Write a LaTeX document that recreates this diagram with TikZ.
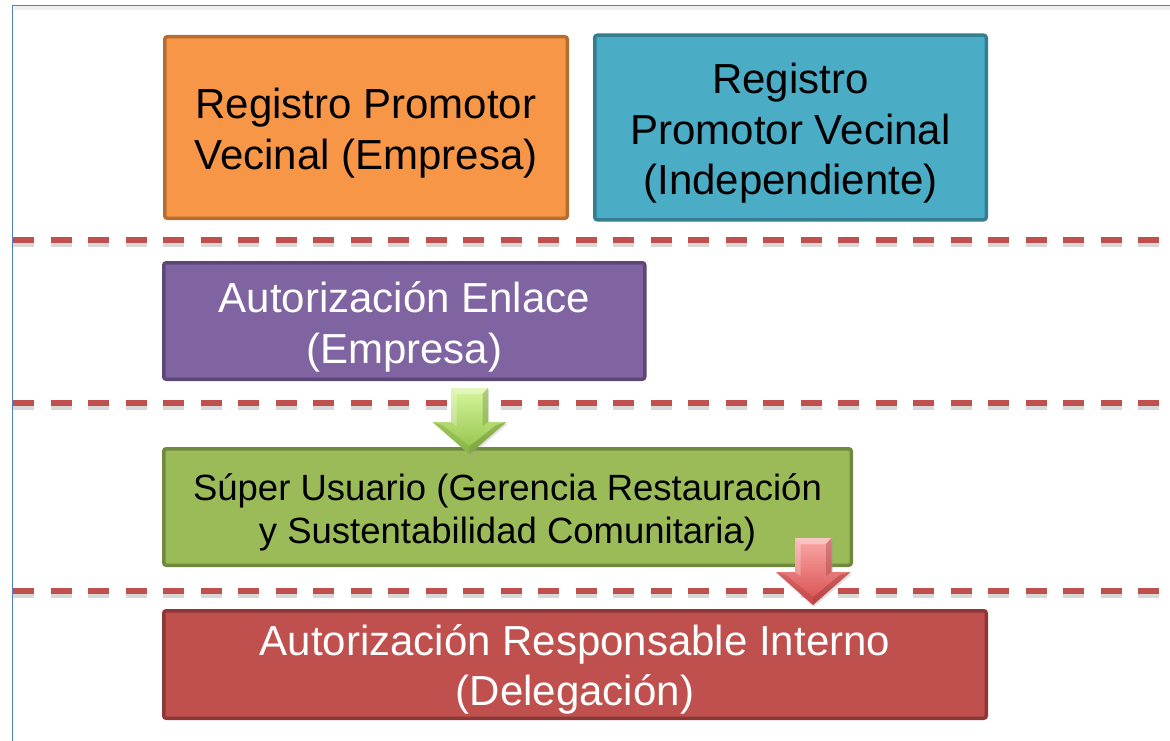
\documentclass[tikz,border=0pt]{standalone}
\usepackage{fontspec}
\setmainfont{Liberation Sans}
\definecolor{frameblue}{HTML}{4F81BD}
\definecolor{dashred}{HTML}{C0504D}
\definecolor{orfill}{HTML}{F79646}\definecolor{ordraw}{HTML}{B66D31}
\definecolor{tefill}{HTML}{4BACC6}\definecolor{tedraw}{HTML}{357D91}
\definecolor{pufill}{HTML}{8064A2}\definecolor{pudraw}{HTML}{5C4776}
\definecolor{grfill}{HTML}{9BBB59}\definecolor{grdraw}{HTML}{71893F}
\definecolor{refill}{HTML}{C0504D}\definecolor{redraw}{HTML}{8C3836}
\definecolor{garrtop}{HTML}{D6F59C}\definecolor{garrbot}{HTML}{92C248}
\definecolor{rarrtop}{HTML}{FAA8A8}\definecolor{rarrbot}{HTML}{D84C4C}
\begin{document}
\begin{tikzpicture}[x=1pt,y=-1pt,
  boxstyle/.style={draw, line width=3.5pt, rounded corners=2.5pt, inner sep=0pt},
  boxtext/.style={align=center, inner sep=0pt, font=\fontsize{42}{50.5}\selectfont},
  sepline/.style={draw=dashred, line width=5.5pt, dash pattern=on 21pt off 16.5pt},
  sepshadow/.style={draw=black!30, opacity=0.5, line width=5pt, dash pattern=on 21pt off 16.5pt}]
\useasboundingbox (0,0) rectangle (1170,741);
\fill[white] (0,0) rectangle (1170,741);
% frame
\coordinate (fbl) at (12.5,741);
\coordinate (ftl) at (12.5,5.5);
\coordinate (ftr) at (1170,5.5);
\draw[frameblue, line width=1.6pt] (fbl) -- (ftl) -- (ftr);
\fill[black!6] (13.5,6.5) rectangle (1170,10);
% separators
\foreach \yy/\nm in {240/s1,403/s2,591/s3}{
  \coordinate (\nm a) at (13,\yy);
  \coordinate (\nm b) at (1170,\yy);
  \path[sepshadow] ([yshift=-4pt]\nm a) -- ([yshift=-4pt]\nm b);
  \path[sepline] (\nm a) -- (\nm b);
}
% boxes
\node[boxstyle, fill=orfill, draw=ordraw, minimum width=402.5pt, minimum height=181.5pt]
  (reg1) at (366,127.5) {};
\node[boxtext] (reg1t) at ([yshift=-5.5pt]reg1.center) {Registro Promotor\\Vecinal (Empresa)};
\node[boxstyle, fill=tefill, draw=tedraw, minimum width=391.5pt, minimum height=184.5pt]
  (reg2) at (790.5,127.5) {};
\node[boxtext] (reg2t) at ([yshift=-6pt]reg2.center) {Registro\\Promotor Vecinal\\(Independiente)};
\node[boxstyle, fill=pufill, draw=pudraw, minimum width=481pt, minimum height=116.5pt]
  (aut) at (404.25,321) {};
\node[boxtext, text=white] (autt) at ([yshift=-6pt]aut.center) {Autorizaci\'on Enlace\\(Empresa)};
\node[boxstyle, fill=grfill, draw=grdraw, minimum width=687.5pt, minimum height=116.5pt]
  (sup) at (507.5,507) {};
\node[boxtext, font=\fontsize{36.5}{43.5}\selectfont] (supt) at ([yshift=-5.5pt]sup.center)
  {S\'uper Usuario (Gerencia Restauraci\'on\\y Sustentabilidad Comunitaria)};
\node[boxstyle, fill=refill, draw=redraw, minimum width=822.5pt, minimum height=107.5pt]
  (resp) at (575,664.5) {};
\node[boxtext, text=white] (respt) at ([yshift=-5pt]resp.center) {Autorizaci\'on Responsable Interno\\(Delegaci\'on)};
% block arrows
\coordinate (ga) at (469.5,388);
\coordinate (ra) at (813,538);
\begin{scope}[shift={(ga)}]
  \fill[black!40, opacity=0.3] (-17.5,2) -- (19.5,2) -- (19.5,36) -- (38,36) -- (1,68) -- (-35,36) -- (-17.5,36) -- cycle;
  \shade[top color=garrtop, bottom color=garrbot] (-18.5,0) -- (18.5,0) -- (18.5,34) -- (37,34) -- (0,66) -- (-37,34) -- (-18.5,34) -- cycle;
  \fill[white, opacity=0.35] (-18.5,0) -- (18.5,0) -- (13,6) -- (-13,6) -- cycle;
  \fill[black!30!garrbot, opacity=0.35] (18.5,0) -- (18.5,34) -- (13,38) -- (13,6) -- cycle;
  \fill[white, opacity=0.25] (-18.5,0) -- (-13,6) -- (-13,38) -- (-18.5,34) -- cycle;
  \fill[black!40!garrbot, opacity=0.35] (37,34) -- (0,66) -- (0,58) -- (27,37) -- cycle;
  \fill[black!20!garrbot, opacity=0.35] (-37,34) -- (0,66) -- (0,58) -- (-27,37) -- cycle;
\end{scope}
\begin{scope}[shift={(ra)}]
  \fill[black!40, opacity=0.3] (-17,2) -- (20,2) -- (20,36) -- (39,36) -- (1,69) -- (-36,36) -- (-17,36) -- cycle;
  \shade[top color=rarrtop, bottom color=rarrbot] (-18,0) -- (18.5,0) -- (18.5,34) -- (37.5,34) -- (0,67) -- (-37,34) -- (-18,34) -- cycle;
  \fill[white, opacity=0.35] (-18,0) -- (18.5,0) -- (13,6) -- (-12.5,6) -- cycle;
  \fill[black!30!rarrbot, opacity=0.35] (18.5,0) -- (18.5,34) -- (13,38) -- (13,6) -- cycle;
  \fill[white, opacity=0.25] (-18,0) -- (-12.5,6) -- (-12.5,38) -- (-18,34) -- cycle;
  \fill[black!40!rarrbot, opacity=0.35] (37.5,34) -- (0,67) -- (0,59) -- (27,37) -- cycle;
  \fill[black!20!rarrbot, opacity=0.35] (-37,34) -- (0,67) -- (0,59) -- (-27,37) -- cycle;
\end{scope}
\end{tikzpicture}
\end{document}
